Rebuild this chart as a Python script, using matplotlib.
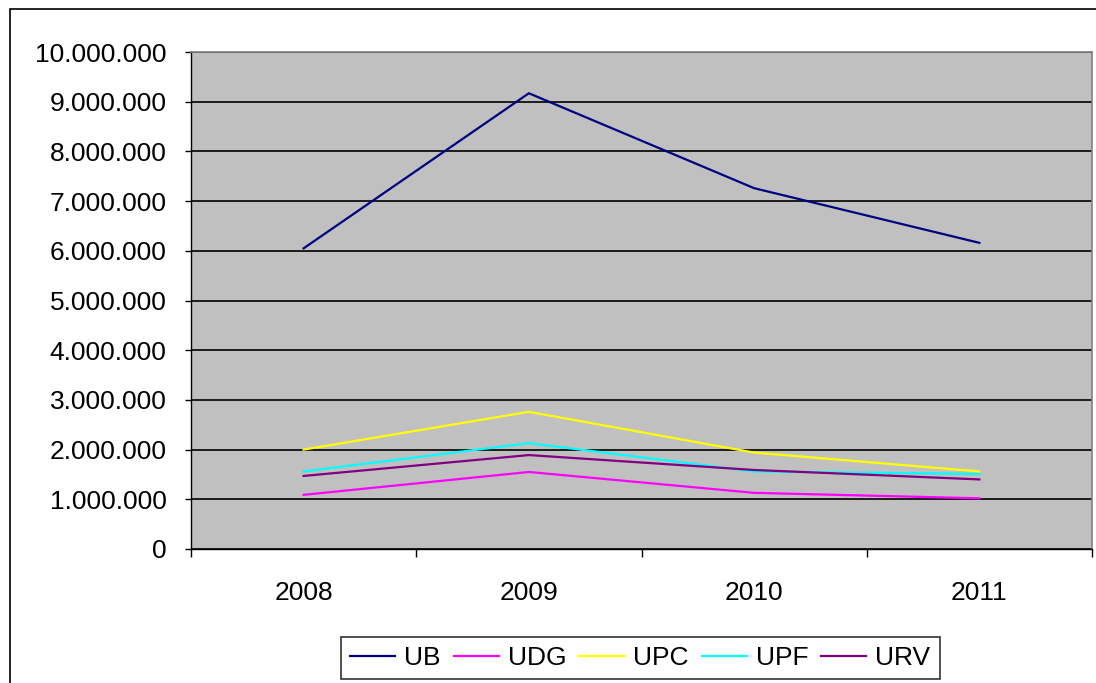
import matplotlib
matplotlib.use('Agg')
import matplotlib.pyplot as plt
from matplotlib.ticker import FuncFormatter, FixedLocator
from matplotlib.patches import Rectangle

# data
years = ['2008', '2009', '2010', '2011']
ub = [6050000, 9170000, 7260000, 6160000]
udg = [1090000, 1550000, 1130000, 1020000]
upc = [2000000, 2760000, 1940000, 1560000]
upf = [1560000, 2130000, 1560000, 1510000]
urv = [1470000, 1890000, 1590000, 1400000]

series = [('UB', ub, '#000080'), ('UDG', udg, '#FF00FF'), ('UPC', upc, '#FFFF00'),
          ('UPF', upf, '#00FFFF'), ('URV', urv, '#800080')]

plt.rcParams['font.family'] = ['Liberation Sans', 'DejaVu Sans']

fig = plt.figure(figsize=(10.96, 6.83), dpi=100)
fig.patch.set_facecolor('white')
# outer chart border (cut off at right and bottom)
fig.patches.append(Rectangle((10 / 1096, -0.05), 1.2, 1 - 9 / 683 + 0.05,
                             transform=fig.transFigure, fill=False,
                             edgecolor='black', linewidth=1.2))

ax = fig.add_axes([191 / 1096, 1 - 549 / 683, (1092 - 191) / 1096, (549 - 52) / 683])
ax.set_facecolor('#C0C0C0')

x = list(range(len(years)))
for name, vals, col in series:
    ax.plot(x, vals, color=col, linewidth=1.6, label=name)

ax.set_xlim(-0.5, len(years) - 0.5)
ax.set_ylim(0, 10000000)
ax.set_yticks(range(0, 10000001, 1000000))
ax.yaxis.set_major_formatter(FuncFormatter(lambda v, p: f'{int(v):,}'.replace(',', '.')))
ax.yaxis.grid(True, color='black', linewidth=1.2)
ax.set_axisbelow(True)

ax.set_xticks(x)
ax.set_xticklabels(years)
ax.xaxis.set_minor_locator(FixedLocator([i - 0.5 for i in range(len(years) + 1)]))
ax.tick_params(axis='x', which='major', length=0, pad=23, labelsize=19)
ax.tick_params(axis='x', which='minor', length=6, width=1, color='black')
ax.tick_params(axis='y', length=4.5, width=1, pad=13, labelsize=19)

for s in ['left', 'bottom']:
    ax.spines[s].set_color('black')
    ax.spines[s].set_linewidth(1)
for s in ['top', 'right']:
    ax.spines[s].set_color('#808080')
    ax.spines[s].set_linewidth(1.2)

leg = fig.legend(loc='upper left', bbox_to_anchor=(341 / 1096, 1 - 637 / 683),
                 ncol=5, fontsize=19, frameon=True, fancybox=False,
                 edgecolor='black', handlelength=1.7, handletextpad=0.34,
                 columnspacing=0.5, borderpad=0.35, borderaxespad=0)
leg.get_frame().set_linewidth(1.2)

fig.savefig('out.png', dpi=100)
